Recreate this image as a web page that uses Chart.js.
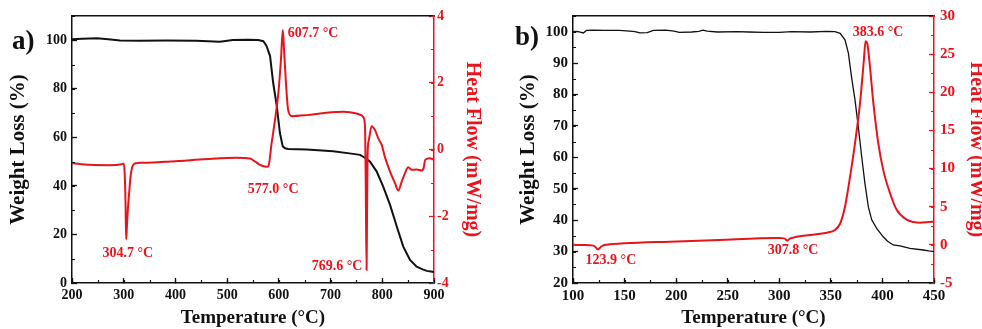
<!DOCTYPE html>
<html>
<head>
<meta charset="utf-8">
<script src="https://cdn.jsdelivr.net/npm/chart.js@4.4.0/dist/chart.umd.min.js"></script>
<style>
  html, body { margin: 0; padding: 0; background: #fff; overflow: hidden; width: 982px; height: 329px; }
  #wrapA { position: absolute; left: 0; top: 0; }
  #wrapB { position: absolute; left: 491px; top: 0; }
</style>
</head>
<body>
<div id="wrapA"><canvas id="chartA" width="491" height="329"></canvas></div>
<div id="wrapB"><canvas id="chartB" width="500" height="329"></canvas></div>
<script>
// panel a) TGA / DSC
const tgaTempA = [200, 220, 248, 270, 293, 330, 383, 440, 486, 511, 540, 560, 570, 576, 583, 589, 596, 602, 607.5, 612, 618, 654, 705, 740, 757, 767, 776, 789, 801.6, 815, 828, 840.6, 853.6, 866.5, 878, 886, 894, 900];
const tgaWeightA = [100.4, 100.6, 100.8, 100.4, 99.9, 99.8, 99.9, 99.8, 99.4, 100.1, 100.2, 100.1, 99.6, 97.8, 93.5, 82.5, 72.9, 61.9, 56.3, 55.5, 55.2, 55.0, 54.3, 53.3, 52.8, 51.5, 50.1, 46.0, 39.8, 32.2, 23.3, 15.0, 9.5, 6.7, 5.6, 5.0, 4.7, 4.5];
const dscTempA = [200, 235, 273, 296, 300, 302, 303.5, 304.7, 306, 308, 310.8, 313, 316, 320, 330, 357, 390, 422, 454, 486, 518, 544, 554, 563.5, 573, 577, 580, 586, 592.5, 599, 604, 607.7, 610, 613, 618, 625, 654, 692, 725, 750, 760, 764, 766.6, 768, 769.6, 770.5, 771.5, 774, 779.5, 786, 792, 799, 805, 815, 824.6, 831, 837.6, 844, 850, 857, 866.5, 876, 880, 883, 892, 900];
const dscHeatA = [-0.41, -0.46, -0.47, -0.44, -0.42, -0.75, -1.6, -2.69, -2.35, -1.8, -1.25, -0.85, -0.55, -0.43, -0.40, -0.39, -0.36, -0.33, -0.29, -0.26, -0.25, -0.27, -0.36, -0.46, -0.51, -0.52, -0.49, 0.19, 0.88, 1.68, 2.68, 3.58, 3.0, 2.18, 1.18, 1.0, 1.03, 1.10, 1.13, 1.08, 1.02, 0.95, 0.68, -1.0, -3.61, -2.0, -0.2, 0.28, 0.70, 0.58, 0.34, 0.13, -0.22, -0.66, -1.01, -1.23, -0.96, -0.71, -0.53, -0.61, -0.60, -0.63, -0.55, -0.31, -0.26, -0.31];
const xTicksA = [200, 300, 400, 500, 600, 700, 800, 900];
const weightTicksA = [0, 20, 40, 60, 80, 100];
const heatTicksA = [-4, -2, 0, 2, 4];
const peakTextA = ['304.7 °C', '607.7 °C', '577.0 °C', '769.6 °C'];
const peakXA = [308, 666, 589, 712.5];
const peakYA = [-3.1, 3.49, -1.21, -3.49];

// panel b)
const tgaTempB = [100, 105, 110, 113, 120, 130, 145, 155, 160, 165, 172, 178, 190, 198, 203, 215, 222, 226, 230, 240, 260, 270, 285, 300, 312, 330, 346, 354, 359, 363.7, 367, 370, 373.4, 376.6, 379.9, 383, 386.3, 389.6, 394.4, 400.8, 405, 410.5, 417, 426.7, 439.6, 445, 450];
const tgaWeightB = [100.0, 100.0, 99.6, 100.4, 100.5, 100.4, 100.4, 100.2, 100.0, 99.6, 99.7, 100.4, 100.5, 100.2, 99.8, 99.9, 100.1, 100.5, 100.2, 99.9, 100.0, 99.9, 99.8, 99.8, 100.0, 99.9, 100.1, 100.0, 99.5, 97.4, 93.2, 85.7, 78.3, 69.8, 60.2, 51.8, 44.3, 40.1, 37.4, 34.7, 33.3, 32.1, 31.8, 31.0, 30.5, 30.2, 30.0];
const dscTempB = [100, 110, 119.7, 122, 123.9, 126, 128, 136, 150, 194, 242, 281, 300, 305, 307.8, 310, 313.6, 330, 346, 354, 359, 363.7, 368.6, 373.4, 378.3, 382, 383.6, 385.3, 387.3, 391.2, 396, 400.8, 407.3, 413.8, 423.5, 430, 436.4, 445, 450];
const dscHeatB = [0.0, -0.03, -0.1, -0.3, -0.6, -0.4, -0.15, 0.07, 0.2, 0.42, 0.64, 0.86, 0.9, 0.85, 0.55, 0.8, 0.95, 1.3, 1.6, 1.95, 2.8, 5.0, 8.9, 13.3, 18.6, 24.2, 26.7, 26.4, 24.2, 18.6, 13.3, 9.8, 6.8, 4.6, 3.3, 3.0, 2.9, 3.0, 3.05];
const xTicksB = [100, 150, 200, 250, 300, 350, 400, 450];
const weightTicksB = [20, 30, 40, 50, 60, 70, 80, 90, 100];
const heatTicksB = [-5, 0, 5, 10, 15, 20, 25, 30];
const peakTextB = ['123.9 °C', '307.8 °C', '383.6 °C'];
const peakXB = [136.8, 313.3, 395.7];
const peakYB = [-2.0, -0.68, 27.8];

const RED = '#e8141b';
const BLACK = '#111';
const FONT = "'Liberation Serif', 'Times New Roman', serif";

Chart.defaults.font.family = FONT;
Chart.defaults.font.weight = 'bold';

function pts(xs, ys) {
  return xs.map((x, i) => ({ x: x, y: ys[i] }));
}

// minor ticks, peak labels and panel letter
const extras = {
  id: 'extras',
  afterDraw(chart, args, opts) {
    const ctx = chart.ctx;
    ctx.save();
    Object.values(chart.scales).forEach(s => {
      const step = s.options.minorStep;
      if (!step) return;
      ctx.strokeStyle = s.options.border.color;
      ctx.lineWidth = 1.2;
      ctx.beginPath();
      for (let v = s.min; v <= s.max + 1e-9; v += step) {
        const p = Math.round(s.getPixelForValue(v)) + 0.5;
        if (s.position === 'bottom') { ctx.moveTo(p, s.top); ctx.lineTo(p, s.top - 3); }
        else if (s.position === 'left') { ctx.moveTo(s.right, p); ctx.lineTo(s.right + 3, p); }
        else if (s.position === 'right') { ctx.moveTo(s.left, p); ctx.lineTo(s.left - 3, p); }
      }
      ctx.stroke();
    });
    const xs = chart.scales.x, ys = chart.scales.y1;
    ctx.fillStyle = RED;
    ctx.font = 'bold 14px ' + FONT;
    ctx.textAlign = 'center';
    ctx.textBaseline = 'middle';
    opts.text.forEach((t, i) => {
      ctx.fillText(t, xs.getPixelForValue(opts.xs[i]), ys.getPixelForValue(opts.ys[i]));
    });
    ctx.fillStyle = BLACK;
    ctx.font = 'bold 27px ' + FONT;
    ctx.textAlign = 'left';
    ctx.textBaseline = 'alphabetic';
    ctx.fillText(opts.letter, opts.lx, opts.ly);
    ctx.restore();
  }
};

function build(id, cfg) {
  // fixed axis boxes so both panels land where the figure has them
  const fixW = w => s => { s.width = w; s.paddingTop = 0; s.paddingBottom = 0; };
  const fixH = h => s => { s.height = h; s.paddingLeft = 0; s.paddingRight = 0; };
  const setTicks = list => s => { s.ticks = list.map(v => ({ value: v })); };
  return new Chart(document.getElementById(id), {
    type: 'line',
    data: {
      datasets: [
        { label: 'Weight Loss', data: pts(cfg.tgaT, cfg.tgaW), yAxisID: 'y', borderColor: BLACK, borderWidth: cfg.blackWidth, pointRadius: 0, tension: 0, order: 1 },
        { label: 'Heat Flow', data: pts(cfg.dscT, cfg.dscH), yAxisID: 'y1', borderColor: RED, borderWidth: 2, pointRadius: 0, cubicInterpolationMode: 'monotone', order: 0 }
      ]
    },
    options: {
      responsive: false,
      animation: false,
      layout: { padding: { top: 16, left: 0, right: 0, bottom: 0 } },
      plugins: {
        legend: { display: false },
        tooltip: { enabled: false },
        extras: { text: cfg.peakText, xs: cfg.peakX, ys: cfg.peakY, letter: cfg.letter, lx: cfg.lx, ly: cfg.ly }
      },
      scales: {
        x: {
          type: 'linear', position: 'bottom', min: cfg.xMin, max: cfg.xMax,
          minorStep: cfg.xMinor,
          afterBuildTicks: setTicks(cfg.xTicks),
          afterFit: fixH(46),
          border: { color: BLACK, width: 1.5 },
          grid: { drawOnChartArea: false, tickLength: -5, tickColor: BLACK, tickWidth: 1.3 },
          ticks: { color: BLACK, padding: 9, font: { size: cfg.tickSize }, maxRotation: 0, autoSkip: false },
          title: { display: true, text: 'Temperature (°C)', color: BLACK, font: { size: 19, lineHeight: 1 }, padding: { top: 0, bottom: 1 } }
        },
        xTop: {
          type: 'linear', position: 'top', min: cfg.xMin, max: cfg.xMax,
          afterFit: fixH(0),
          border: { color: BLACK, width: 1.5 },
          grid: { drawOnChartArea: false, drawTicks: false },
          ticks: { display: false }
        },
        y: {
          position: 'left', min: cfg.yMin, max: cfg.yMax,
          minorStep: cfg.yMinor,
          afterBuildTicks: setTicks(cfg.yTicks),
          afterFit: fixW(cfg.leftW),
          border: { color: BLACK, width: 1.5 },
          grid: { drawOnChartArea: false, tickLength: -5, tickColor: BLACK, tickWidth: 1.3 },
          ticks: { color: BLACK, padding: 10, font: { size: cfg.tickSize } },
          title: { display: true, text: 'Weight Loss (%)', color: BLACK, font: { size: 21, lineHeight: 1 }, padding: { top: cfg.leftTitlePad, bottom: 0 } }
        },
        y1: {
          position: 'right', min: cfg.hMin, max: cfg.hMax,
          minorStep: cfg.hMinor,
          afterBuildTicks: setTicks(cfg.hTicks),
          afterFit: fixW(cfg.rightW),
          border: { color: RED, width: 1.5 },
          grid: { drawOnChartArea: false, tickLength: -5, tickColor: RED, tickWidth: 1.3 },
          ticks: { color: RED, padding: cfg.rightTickPad, font: { size: cfg.tickSize } },
          title: { display: true, text: 'Heat Flow (mW/mg)', color: RED, font: { size: 20, lineHeight: 1 }, padding: { top: cfg.rightTitlePad, bottom: 0 } }
        }
      }
    },
    plugins: [extras]
  });
}

build('chartA', {
  tgaT: tgaTempA, tgaW: tgaWeightA, dscT: dscTempA, dscH: dscHeatA,
  peakText: peakTextA, peakX: peakXA, peakY: peakYA,
  letter: 'a)', lx: 12, ly: 49,
  xMin: 200, xMax: 900, xTicks: xTicksA, xMinor: 50,
  yMin: 0, yMax: 110, yTicks: weightTicksA, yMinor: 10,
  hMin: -4, hMax: 4, hTicks: heatTicksA, hMinor: 1,
  leftW: 72, rightW: 57, tickSize: 14, blackWidth: 2,
  leftTitlePad: 8, rightTitlePad: 9, rightTickPad: 8
});

build('chartB', {
  tgaT: tgaTempB, tgaW: tgaWeightB, dscT: dscTempB, dscH: dscHeatB,
  peakText: peakTextB, peakX: peakXB, peakY: peakYB,
  letter: 'b)', lx: 24, ly: 45,
  xMin: 100, xMax: 450, xTicks: xTicksB, xMinor: 25,
  yMin: 20, yMax: 105, yTicks: weightTicksB, yMinor: 5,
  hMin: -5, hMax: 30, hTicks: heatTicksB, hMinor: 2.5,
  leftW: 82, rightW: 57, tickSize: 15, blackWidth: 1.3,
  leftTitlePad: 27, rightTitlePad: 5, rightTickPad: 11
});
</script>
</body>
</html>
